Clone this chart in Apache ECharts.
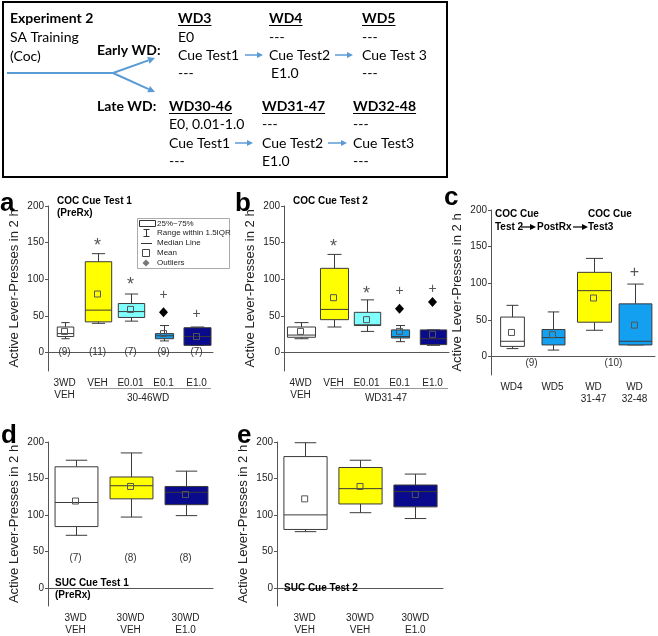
<!DOCTYPE html>
<html>
<head>
<meta charset="utf-8">
<script src="https://cdn.jsdelivr.net/npm/echarts@6/dist/echarts.min.js"></script>
<style>
  html, body { margin: 0; background: #fff; }
  #chart { width: 658px; height: 636px; }
</style>
</head>
<body>
<div id="chart"></div>
<script>
// ---- data ----
const yTicks = [0, 50, 100, 150, 200];

// a: COC cue test 1 (PreRx)  [min, q1, median, q3, max]
const catsA = ['3WD\nVEH', 'VEH', 'E0.01', 'E0.1', 'E1.0'];
const boxA = [[19, 22, 26, 35, 41], [40, 42, 58, 124, 135], [43, 48, 56, 67, 80], [16, 19, 23, 26, 37], [10, 10, 22, 34, 35]];
const meanA = [29, 80, 59, 26, 22];
const nA = ['(9)', '(11)', '(7)', '(9)', '(7)'];
const starA = [[1, 151], [2, 98]];
const plusA = [[3, 79], [4, 52]];
const diamondA = [[3, 55]];

// b: COC cue test 2
const catsB = ['4WD\nVEH', 'VEH', 'E0.01', 'E0.1', 'E1.0'];
const boxB = [[19, 21, 24, 35, 41], [35, 45, 59, 115, 134], [29, 37, 38, 55, 72], [15, 20, 22, 31, 37], [10, 11, 19, 31, 31]];
const meanB = [29, 75, 45, 29, 25];
const starB = [[1, 149], [2, 85]];
const plusB = [[3, 84], [4, 87]];
const diamondB = [[3, 60], [4, 69]];

// c: test 2 -> PostRx -> test 3
const catsC = ['WD4', 'WD5', 'WD\n31-47', 'WD\n32-48'];
const boxC = [[11, 14, 21, 54, 70], [9, 16, 26, 37, 61], [36, 47, 90, 115, 134], [16, 16, 21, 72, 99]];
const meanC = [33, 30, 80, 43];
const plusC = [[3, 115]];
const nC = [[0, -9], [2, -9]];
const nCText = ['(9)', '(10)'];

// d: SUC cue test 1 (PreRx)
const catsD = ['3WD\nVEH', '30WD\nVEH', '30WD\nE1.0'];
const boxD = [[72, 84, 117, 166, 175], [97, 122, 140, 152, 185], [99, 114, 131, 139, 160]];
const meanD = [119, 139, 128];
const nD = ['(7)', '(8)', '(8)'];

// e: SUC cue test 2
const catsE = ['3WD\nVEH', '30WD\nVEH', '30WD\nE1.0'];
const boxE = [[77, 80, 100, 180, 199], [103, 115, 136, 165, 175], [95, 111, 132, 141, 156]];
const meanE = [122, 139, 128];

// ---- styles ----
const FONT = '"Liberation Sans", Arial, sans-serif';
const DIAG = 'Lato, "Open Sans", sans-serif';
const WHITE = '#ffffff', YELLOW = '#ffff00', CYAN = '#80ffff', BLUE = '#14a0f0', NAVY = '#0a0a8c';
const EDGE = '#3a3a3a';
const AXIS = '#555';
const TEXT = '#222';
const ARROW = '#5b9bd5';
const CLEAR = 'rgba(0,0,0,0)';

const fillA = [WHITE, YELLOW, CYAN, BLUE, NAVY];
const fillB = [WHITE, YELLOW, CYAN, BLUE, NAVY];
const fillC = [WHITE, BLUE, YELLOW, BLUE];
const fillD = [WHITE, YELLOW, NAVY];
const fillE = [WHITE, YELLOW, NAVY];
const widthA = [0.5, 0.8, 0.8, 0.55, 0.82];
const widthB = [0.85, 0.85, 0.8, 0.55, 0.8];
const widthC = [0.58, 0.56, 0.83, 0.8];
const widthD = [0.78, 0.78, 0.78];
const widthE = [0.78, 0.78, 0.78];

const chart = echarts.init(document.getElementById('chart'));

const grids = [
  { left: 48, top: 206, width: 165, height: 165 },
  { left: 284, top: 206, width: 165, height: 165 },
  { left: 491, top: 210, width: 164, height: 165 },
  { left: 48, top: 442, width: 165, height: 166 },
  { left: 277, top: 442, width: 166, height: 165 }
];

function xAxisFor(gi, data) {
  return {
    type: 'category',
    gridIndex: gi,
    data: data,
    axisLine: { lineStyle: { color: AXIS } },
    axisTick: { show: false },
    axisLabel: { interval: 0, fontFamily: FONT, fontSize: 10, color: TEXT, margin: 6, lineHeight: 12 }
  };
}

function yAxisFor(gi) {
  return {
    type: 'value',
    gridIndex: gi,
    min: -25,
    max: 200,
    name: 'Active Lever-Presses in 2 h',
    nameLocation: 'middle',
    nameGap: 27,
    nameTextStyle: { fontFamily: FONT, fontSize: 13, color: TEXT },
    axisLine: { show: true, lineStyle: { color: AXIS } },
    axisTick: { show: true, length: 3, customValues: yTicks, lineStyle: { color: AXIS } },
    axisLabel: { customValues: yTicks, fontFamily: FONT, fontSize: 10, color: TEXT, margin: 4 },
    splitLine: { show: false }
  };
}

function boxSeries(gi, boxes, fills, widths) {
  return {
    type: 'custom',
    xAxisIndex: gi,
    yAxisIndex: gi,
    encode: { x: 0, y: [1, 2, 3, 4, 5] },
    data: boxes.map((b, i) => [i].concat(b)),
    renderItem: function (params, api) {
      const i = params.dataIndex;
      const x = api.value(0);
      const band = api.size([1, 0])[0];
      const w = band * widths[i];
      const cap = w / 2;
      const pMin = api.coord([x, api.value(1)]);
      const pQ1 = api.coord([x, api.value(2)]);
      const pMed = api.coord([x, api.value(3)]);
      const pQ3 = api.coord([x, api.value(4)]);
      const pMax = api.coord([x, api.value(5)]);
      const cx = Math.round(pMin[0]) + 0.5;
      const seg = (x1, y1, x2, y2) => ({
        type: 'line',
        shape: { x1: x1, y1: y1, x2: x2, y2: y2 },
        style: { stroke: EDGE, lineWidth: 1 }
      });
      return {
        type: 'group',
        children: [
          seg(cx, pMax[1], cx, pQ3[1]),
          seg(cx, pQ1[1], cx, pMin[1]),
          seg(cx - cap / 2, pMax[1], cx + cap / 2, pMax[1]),
          seg(cx - cap / 2, pMin[1], cx + cap / 2, pMin[1]),
          {
            type: 'rect',
            shape: { x: cx - w / 2, y: pQ3[1], width: w, height: pQ1[1] - pQ3[1] },
            style: { fill: fills[i], stroke: EDGE, lineWidth: 1 }
          },
          seg(cx - w / 2, pMed[1], cx + w / 2, pMed[1])
        ]
      };
    }
  };
}

function meanSeries(gi, means) {
  return {
    type: 'scatter',
    xAxisIndex: gi,
    yAxisIndex: gi,
    symbol: 'rect',
    symbolSize: 6,
    itemStyle: { color: CLEAR, borderColor: '#555', borderWidth: 1, opacity: 1 },
    data: means.map((v, i) => [i, v]),
    z: 3
  };
}

function glyphSeries(gi, pts, glyph, size, dy) {
  return {
    type: 'scatter',
    xAxisIndex: gi,
    yAxisIndex: gi,
    symbolSize: 2,
    itemStyle: { color: CLEAR, opacity: 1 },
    label: { show: true, position: 'inside', formatter: glyph, fontFamily: FONT, fontSize: size, color: '#555', offset: [0, dy] },
    data: pts,
    z: 3
  };
}

function diamondSeries(gi, pts) {
  return {
    type: 'scatter',
    xAxisIndex: gi,
    yAxisIndex: gi,
    symbol: 'diamond',
    symbolSize: [9, 10],
    itemStyle: { color: '#000', opacity: 1 },
    data: pts,
    z: 3
  };
}

function countSeries(gi, pts, texts, dx) {
  return {
    type: 'scatter',
    xAxisIndex: gi,
    yAxisIndex: gi,
    symbolSize: 2,
    itemStyle: { color: CLEAR, opacity: 1 },
    label: {
      show: true, position: 'inside', offset: [dx, 0],
      formatter: (p) => texts[p.dataIndex],
      fontFamily: FONT, fontSize: 10, color: '#333'
    },
    data: pts
  };
}

// ---- graphic helpers ----
const measureCtx = document.createElement('canvas').getContext('2d');
function textWidth(str, font) {
  measureCtx.font = font;
  return measureCtx.measureText(str).width;
}

function txt(x, y, text, opts) {
  opts = opts || {};
  return {
    type: 'text',
    x: x,
    y: y,
    style: {
      text: text,
      fontFamily: opts.family || FONT,
      fontSize: opts.size || 10,
      fontWeight: opts.weight || 'normal',
      fill: opts.color || '#000',
      align: opts.align || 'left',
      verticalAlign: 'middle'
    },
    z: 10
  };
}

function lineEl(x1, y1, x2, y2, color, width) {
  return { type: 'line', shape: { x1: x1, y1: y1, x2: x2, y2: y2 }, style: { stroke: color, lineWidth: width || 1 }, z: 10 };
}

function arrow(x1, y1, x2, y2, color, width, head) {
  const ang = Math.atan2(y2 - y1, x2 - x1);
  const h = head || 6, hw = h / 2;
  const bx = x2 - h * Math.cos(ang), by = y2 - h * Math.sin(ang);
  const px = -Math.sin(ang) * hw, py = Math.cos(ang) * hw;
  return [
    lineEl(x1, y1, bx, by, color, width),
    { type: 'polygon', shape: { points: [[x2, y2], [bx + px, by + py], [bx - px, by - py]] }, style: { fill: color }, z: 10 }
  ];
}

function header(x, y, text) {
  const w = textWidth(text, 'bold 14px ' + DIAG);
  return [txt(x, y, text, { family: DIAG, size: 14, weight: 'bold' }), lineEl(x, y + 7.5, x + w, y + 7.5, '#000', 1.2)];
}

const D = { family: DIAG, size: 14 };
let graphics = [];

// experiment diagram
graphics.push({ type: 'rect', shape: { x: 3, y: 2, width: 444, height: 175 }, style: { fill: 'none', stroke: '#000', lineWidth: 2 }, z: 10 });
graphics.push(txt(10, 18, 'Experiment 2', { family: DIAG, size: 14, weight: 'bold' }));
graphics.push(txt(10, 37, 'SA Training', D));
graphics.push(txt(10, 56, '(Coc)', D));
graphics.push(lineEl(7, 73, 113, 73, ARROW, 2));
graphics = graphics.concat(arrow(113, 73, 155, 58, ARROW, 2, 7));
graphics = graphics.concat(arrow(113, 73, 155, 92, ARROW, 2, 7));
graphics.push(txt(97, 50, 'Early WD:', { family: DIAG, size: 14, weight: 'bold' }));
graphics.push(txt(97, 106, 'Late WD:', { family: DIAG, size: 14, weight: 'bold' }));

graphics = graphics.concat(header(178, 18, 'WD3'));
graphics.push(txt(178, 37, 'E0', D));
graphics.push(txt(178, 55, 'Cue Test1', D));
graphics.push(txt(178, 73, '---', D));
graphics = graphics.concat(arrow(245, 55, 263, 55, ARROW, 1.5, 6));
graphics = graphics.concat(header(269, 18, 'WD4'));
graphics.push(txt(269, 37, '---', D));
graphics.push(txt(269, 55, 'Cue Test2', D));
graphics.push(txt(271, 73, 'E1.0', D));
graphics = graphics.concat(arrow(335, 55, 353, 55, ARROW, 1.5, 6));
graphics = graphics.concat(header(362, 18, 'WD5'));
graphics.push(txt(362, 37, '---', D));
graphics.push(txt(362, 55, 'Cue Test 3', D));
graphics.push(txt(362, 73, '---', D));

graphics = graphics.concat(header(169, 106, 'WD30-46'));
graphics.push(txt(169, 124, 'E0, 0.01-1.0', D));
graphics.push(txt(169, 143, 'Cue Test1', D));
graphics.push(txt(169, 161, '---', D));
graphics = graphics.concat(arrow(235, 143, 253, 143, ARROW, 1.5, 6));
graphics = graphics.concat(header(262, 106, 'WD31-47'));
graphics.push(txt(262, 124, '---', D));
graphics.push(txt(262, 143, 'Cue Test2', D));
graphics.push(txt(262, 161, 'E1.0', D));
graphics = graphics.concat(arrow(328, 143, 347, 143, ARROW, 1.5, 6));
graphics = graphics.concat(header(353, 106, 'WD32-48'));
graphics.push(txt(353, 124, '---', D));
graphics.push(txt(353, 143, 'Cue Test3', D));
graphics.push(txt(353, 161, '---', D));

// panel letters
const L = { size: 26, weight: 'bold' };
graphics.push(txt(0, 204, 'a', L));
graphics.push(txt(235, 204, 'b', L));
graphics.push(txt(444, 198, 'c', L));
graphics.push(txt(1, 436, 'd', L));
graphics.push(txt(237, 436, 'e', L));

// panel titles
const T = { size: 10, weight: 'bold' };
graphics.push(txt(57, 201, 'COC Cue Test 1', T));
graphics.push(txt(57, 213, '(PreRx)', T));
graphics.push(txt(293, 201, 'COC Cue Test 2', T));
graphics.push(txt(495, 214, 'COC Cue', T));
graphics.push(txt(588, 214, 'COC Cue', T));
graphics.push(txt(495, 227, 'Test 2', T));
graphics = graphics.concat(arrow(521, 227, 536, 227, '#000', 1.2, 6));
graphics.push(txt(537, 227, 'PostRx', T));
graphics = graphics.concat(arrow(573, 227, 588, 227, '#000', 1.2, 6));
graphics.push(txt(588, 227, 'Test3', T));
graphics.push(txt(55, 583, 'SUC Cue Test 1', T));
graphics.push(txt(55, 595, '(PreRx)', T));
graphics.push(txt(284, 588, 'SUC Cue Test 2', T));

// group labels under x axes
graphics.push(lineEl(90, 388.5, 211, 388.5, '#999', 1));
graphics.push(txt(148, 398, '30-46WD', { size: 10, color: TEXT, align: 'center' }));
graphics.push(lineEl(330, 388.5, 448, 388.5, '#999', 1));
graphics.push(txt(386, 398, 'WD31-47', { size: 10, color: TEXT, align: 'center' }));

// legend of panel a
const LG = { size: 8, color: '#222' };
graphics.push({ type: 'rect', shape: { x: 137.5, y: 218.5, width: 92, height: 50 }, style: { fill: '#fff', stroke: '#aaa', lineWidth: 1 }, z: 9 });
graphics.push({ type: 'rect', shape: { x: 139.5, y: 220.5, width: 16, height: 6 }, style: { fill: 'none', stroke: '#333', lineWidth: 1 }, z: 10 });
graphics.push(txt(157, 223.5, '25%~75%', LG));
graphics.push(lineEl(146.5, 229, 146.5, 237, '#333', 1));
graphics.push(lineEl(143.5, 229.5, 149.5, 229.5, '#333', 1));
graphics.push(lineEl(143.5, 236.5, 149.5, 236.5, '#333', 1));
graphics.push(txt(157, 233, 'Range within 1.5IQR', LG));
graphics.push(lineEl(141, 243.5, 152, 243.5, '#333', 1));
graphics.push(txt(157, 243, 'Median Line', LG));
graphics.push({ type: 'rect', shape: { x: 142.5, y: 249.5, width: 7, height: 7 }, style: { fill: 'none', stroke: '#444', lineWidth: 1 }, z: 10 });
graphics.push(txt(157, 253, 'Mean', LG));
graphics.push({ type: 'polygon', shape: { points: [[146, 259.5], [149.5, 263], [146, 266.5], [142.5, 263]] }, style: { fill: '#777' }, z: 10 });
graphics.push(txt(157, 263, 'Outliers', LG));

const option = {
  animation: false,
  backgroundColor: '#fff',
  grid: grids,
  xAxis: [xAxisFor(0, catsA), xAxisFor(1, catsB), xAxisFor(2, catsC), xAxisFor(3, catsD), xAxisFor(4, catsE)],
  yAxis: [yAxisFor(0), yAxisFor(1), yAxisFor(2), yAxisFor(3), yAxisFor(4)],
  graphic: graphics,
  series: [
    boxSeries(0, boxA, fillA, widthA),
    meanSeries(0, meanA),
    glyphSeries(0, starA, '*', 18, 4),
    glyphSeries(0, plusA, '+', 14, 0),
    diamondSeries(0, diamondA),
    countSeries(0, nA.map((t, i) => [i, 0]), nA, 0),

    boxSeries(1, boxB, fillB, widthB),
    meanSeries(1, meanB),
    glyphSeries(1, starB, '*', 18, 4),
    glyphSeries(1, plusB, '+', 14, 0),
    diamondSeries(1, diamondB),

    boxSeries(2, boxC, fillC, widthC),
    meanSeries(2, meanC),
    glyphSeries(2, plusC, '+', 16, 0),
    countSeries(2, nC, nCText, 20),

    boxSeries(3, boxD, fillD, widthD),
    meanSeries(3, meanD),
    countSeries(3, nD.map((t, i) => [i, 40]), nD, 0),

    boxSeries(4, boxE, fillE, widthE),
    meanSeries(4, meanE)
  ]
};

chart.setOption(option);
</script>
</body>
</html>
